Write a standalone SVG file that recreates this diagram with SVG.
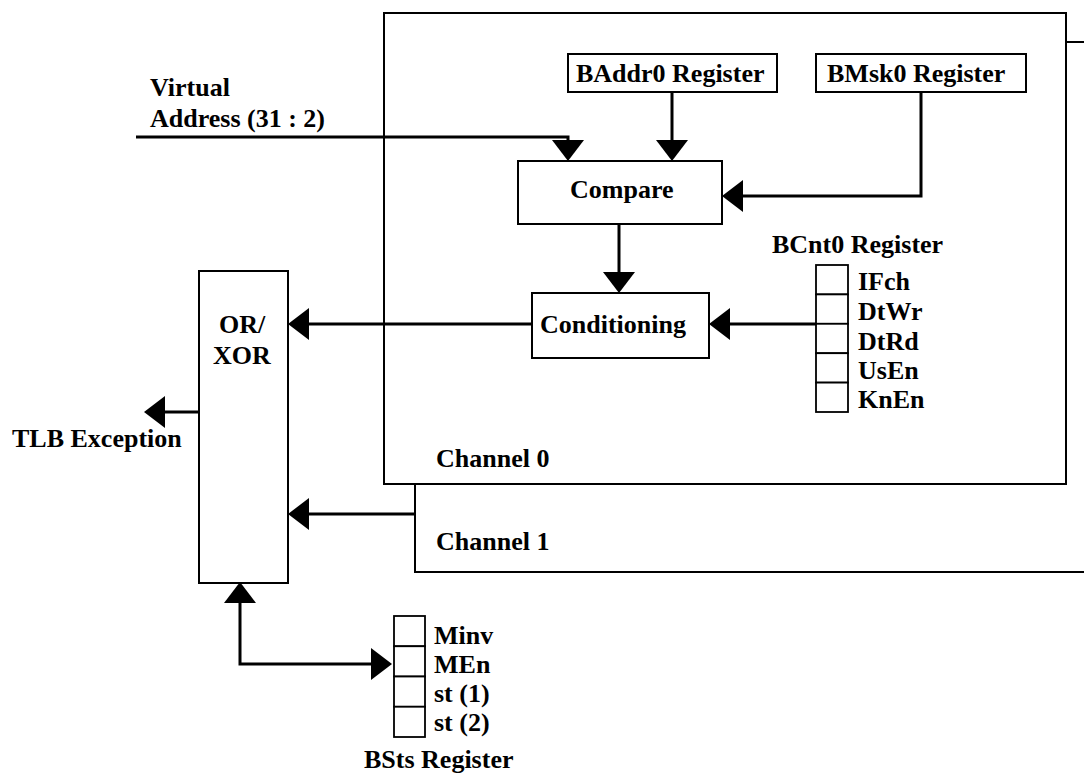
<svg xmlns="http://www.w3.org/2000/svg" width="1084" height="775" viewBox="0 0 1084 775">
<style>
  .t { font-family: "Liberation Serif", "Times New Roman", serif; font-weight: bold; font-size: 26px; fill: #000; }
  .box { fill: #fff; stroke: #000; stroke-width: 2; }
  .cell { fill: #fff; stroke: #000; stroke-width: 1.8; }
  .wire { fill: none; stroke: #000; stroke-width: 3; }
</style>
<defs>
  <marker id="arr" viewBox="0 0 21 32" refX="0" refY="16" markerWidth="21" markerHeight="32" markerUnits="userSpaceOnUse" orient="auto-start-reverse">
    <path d="M0,0 L21,16 L0,32 Z" fill="#000"/>
  </marker>
</defs>
<rect width="1084" height="775" fill="#fff"/>

<g id="channel1">
  <rect class="box" x="415" y="42" width="720" height="530"/>
  <text class="t" x="436" y="550">Channel 1</text>
</g>
<g id="channel0">
  <rect class="box" x="384" y="13" width="682" height="471"/>
  <text class="t" x="436" y="467">Channel 0</text>
</g>

<g id="baddr0">
  <rect class="box" x="568" y="54" width="209" height="38"/>
  <text class="t" x="576" y="82">BAddr0 Register</text>
</g>
<g id="bmsk0">
  <rect class="box" x="816" y="54" width="210" height="38"/>
  <text class="t" x="827" y="82">BMsk0 Register</text>
</g>
<g id="compare">
  <rect class="box" x="518" y="161" width="204" height="63"/>
  <text class="t" x="570" y="198">Compare</text>
</g>
<g id="conditioning">
  <rect class="box" x="532" y="293" width="177" height="65"/>
  <text class="t" x="540" y="333">Conditioning</text>
</g>
<g id="bcnt0">
  <text class="t" x="772" y="253">BCnt0 Register</text>
  <rect class="cell" x="816" y="265" width="32" height="29.4"/>
  <rect class="cell" x="816" y="294.4" width="32" height="29.4"/>
  <rect class="cell" x="816" y="323.8" width="32" height="29.4"/>
  <rect class="cell" x="816" y="353.2" width="32" height="29.4"/>
  <rect class="cell" x="816" y="382.6" width="32" height="29.4"/>
  <text class="t" x="858" y="290">IFch</text>
  <text class="t" x="858" y="320">DtWr</text>
  <text class="t" x="858" y="350">DtRd</text>
  <text class="t" x="858" y="379">UsEn</text>
  <text class="t" x="858" y="408">KnEn</text>
</g>
<g id="orxor">
  <rect class="box" x="199" y="271" width="89" height="312"/>
  <text class="t" x="219" y="333">OR/</text>
  <text class="t" x="213" y="364">XOR</text>
</g>
<g id="bsts">
  <rect class="cell" x="394" y="616" width="31" height="30.25"/>
  <rect class="cell" x="394" y="646.25" width="31" height="30.25"/>
  <rect class="cell" x="394" y="676.5" width="31" height="30.25"/>
  <rect class="cell" x="394" y="706.75" width="31" height="30.25"/>
  <text class="t" x="434" y="644">Minv</text>
  <text class="t" x="434" y="673">MEn</text>
  <text class="t" x="434" y="702">st (1)</text>
  <text class="t" x="434" y="731">st (2)</text>
  <text class="t" x="364" y="768">BSts Register</text>
</g>
<g id="virtual-address">
  <text class="t" x="150" y="96">Virtual</text>
  <text class="t" x="150" y="127">Address (31 : 2)</text>
</g>
<g id="tlb-exception">
  <text class="t" x="12" y="447">TLB Exception</text>
</g>

<g id="connectors">
  <path class="wire" d="M136,137 H568 V140" marker-end="url(#arr)"/>
  <path class="wire" d="M672,92 V140" marker-end="url(#arr)"/>
  <path class="wire" d="M921,92 V196 H743" marker-end="url(#arr)"/>
  <path class="wire" d="M619,224 V272" marker-end="url(#arr)"/>
  <path class="wire" d="M816,324 H730" marker-end="url(#arr)"/>
  <path class="wire" d="M532,324 H309" marker-end="url(#arr)"/>
  <path class="wire" d="M415,514 H309" marker-end="url(#arr)"/>
  <path class="wire" d="M199,412 H165" marker-end="url(#arr)"/>
  <path class="wire" d="M240,603 V664 H371" marker-start="url(#arr)" marker-end="url(#arr)"/>
</g>
</svg>
